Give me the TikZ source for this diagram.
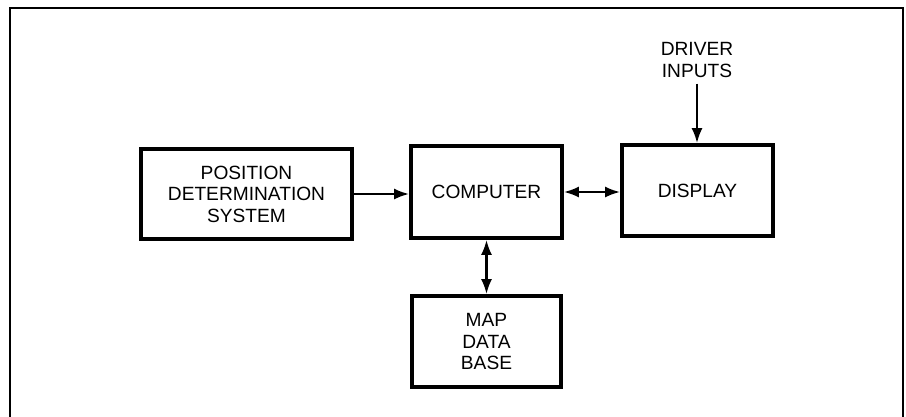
\documentclass[tikz,border=0pt]{standalone}
\usepackage{fontspec}
\setmainfont{Liberation Sans}
\usepackage{tikz}
\usetikzlibrary{arrows.meta}

\tikzset{
  blok/.style={draw,line width=2pt,align=center,inner sep=0pt},
  fleche/.style={line width=1.5pt,-{Latex[length=3mm,width=2.2mm]}},
  doublefleche/.style={line width=1.5pt,{Latex[length=3mm,width=2.2mm]}-{Latex[length=3mm,width=2.2mm]}}
}

\begin{document}
\begin{tikzpicture}[font=\fontsize{10.9}{12.2}\selectfont]
      \useasboundingbox (0,0) rectangle (18.12,-8.34);
      \draw[line width=1.2pt](0.2,-8.34)--(0.2,-0.16)--(18.06,-0.16)--(18.06,-8.34);
      \node[blok,minimum width=4.22cm,minimum height=1.80cm](pos) at (4.93,-3.88){POSITION\\DETERMINATION\\SYSTEM};
      \node[blok,minimum width=3.02cm,minimum height=1.84cm](comp) at (9.73,-3.84){COMPUTER};
      \node[blok,minimum width=3.02cm,minimum height=1.82cm](disp) at (13.95,-3.81){DISPLAY};
      \node[blok,minimum width=2.98cm,minimum height=1.82cm](map) at (9.73,-6.83){MAP\\DATA\\BASE};
      \node[align=center](drv) at (13.94,-1.2){DRIVER\\INPUTS};
      \draw[fleche](pos.east)--(pos.east -| comp.west);
      \draw[doublefleche](comp.east)--(comp.east -| disp.west);
      \draw[doublefleche](comp.south)--(map.north);
      \draw[fleche](drv.south)--(drv.south |- disp.north);
    \end{tikzpicture}
\end{document}
